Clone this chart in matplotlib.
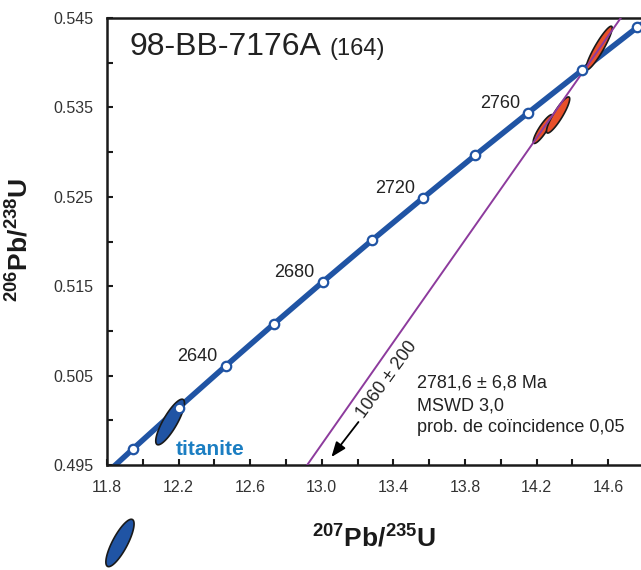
import numpy as np
import matplotlib
matplotlib.use("Agg")
import matplotlib.pyplot as plt
from matplotlib.patches import Polygon
from matplotlib.ticker import FixedLocator, FormatStrFormatter

plt.rcParams['font.family'] = ['Liberation Sans', 'DejaVu Sans']
plt.rcParams['mathtext.fontset'] = 'custom'
plt.rcParams['mathtext.rm'] = 'Liberation Sans'
plt.rcParams['mathtext.bf'] = 'Liberation Sans:bold'

# concordia points (age in Ma, 207Pb/235U, 206Pb/238U)
ages = [2580, 2600, 2620, 2640, 2660, 2680, 2700, 2720, 2740, 2760, 2780, 2800, 2820]
pb207_u235 = [11.692, 11.944, 12.201, 12.464, 12.732, 13.005, 13.283, 13.568,
              13.857, 14.153, 14.455, 14.762, 15.076]
pb206_u238 = [0.49213, 0.49677, 0.50142, 0.50609, 0.51077, 0.51547, 0.52018,
              0.52491, 0.52965, 0.53440, 0.53917, 0.54396, 0.54876]
labelled_ages = [2640, 2680, 2720, 2760]

# discordia intercepts (lower 1060 Ma, upper 2781.6 Ma)
discordia_x = [1.8404, 14.479]
discordia_y = [0.17872, 0.53955]

# analyses: x, y, sigma x, sigma y, rho
zircon_x = [14.549, 14.236, 14.320]
zircon_y = [0.54164, 0.53258, 0.53415]
zircon_sx = [0.0731, 0.0550, 0.0648]
zircon_sy = [0.00244, 0.00161, 0.00202]
zircon_rho = [0.92, 0.878, 0.892]

titanite_x = [12.153, 11.873]
titanite_y = [0.49981, 0.48628]
titanite_sx = [0.0801, 0.0787]
titanite_sy = [0.00255, 0.00265]
titanite_rho = [0.831, 0.803]

x_major = [11.8, 12.2, 12.6, 13.0, 13.4, 13.8, 14.2, 14.6]
x_minor = [12.0, 12.4, 12.8, 13.2, 13.6, 14.0, 14.4]
y_major = [0.495, 0.505, 0.515, 0.525, 0.535, 0.545]
y_minor = [0.500, 0.510, 0.520, 0.530, 0.540]

BLUE = '#2054a4'
RED = '#e8502a'
PURPLE = '#8d3b9d'


def ellipse_points(cx, cy, sx, sy, rho, n=100):
    t = np.linspace(0, 2 * np.pi, n)
    ex = cx + sx * np.cos(t)
    ey = cy + sy * (rho * np.cos(t) + np.sqrt(1 - rho ** 2) * np.sin(t))
    return np.column_stack([ex, ey])


fig = plt.figure(figsize=(6.41, 5.70), dpi=100)
ax = fig.add_axes([106.9 / 641, 1 - 465 / 570, 1 - 106.9 / 641, 447 / 570])
ax.set_xlim(11.8, 14.783)
ax.set_ylim(0.495, 0.545)

# concordia
ax.plot(pb207_u235, pb206_u238, color=BLUE, lw=4.0, zorder=2, solid_capstyle='butt')

# ellipses
for i in range(len(zircon_x)):
    pts = ellipse_points(zircon_x[i], zircon_y[i], zircon_sx[i], zircon_sy[i], zircon_rho[i])
    ax.add_patch(Polygon(pts, closed=True, facecolor=RED, edgecolor='#1a1a1a', lw=1.2, zorder=3))
for i in range(len(titanite_x)):
    pts = ellipse_points(titanite_x[i], titanite_y[i], titanite_sx[i], titanite_sy[i], titanite_rho[i])
    ax.add_patch(Polygon(pts, closed=True, facecolor=BLUE, edgecolor='#1a1a1a', lw=1.2,
                         zorder=3, clip_on=(i == 0)))

# discordia
ax.axline((discordia_x[0], discordia_y[0]), (discordia_x[1], discordia_y[1]),
          color=PURPLE, lw=1.4, zorder=4)

# age markers
ax.plot(pb207_u235, pb206_u238, 'o', ms=6.8, mfc='white', mec=BLUE, mew=1.6, zorder=5)
for a in labelled_ages:
    k = ages.index(a)
    ax.annotate(str(a), (pb207_u235[k], pb206_u238[k]), xytext=(-8, 5),
                textcoords='offset pixels', ha='right', va='baseline',
                fontsize=13, color='#222222')

# texts
ax.text(11.929, 0.54086, '98-BB-7176A', fontsize=23, color='#222222', va='baseline')
ax.text(13.041, 0.54086, '(164)', fontsize=17, color='#222222', va='baseline')
ax.text(12.186, 0.49611, 'titanite', fontsize=15, fontweight='bold', color='#1b7ec2',
        va='baseline')
ax.text(13.366, 0.50451, '1060 ± 200', fontsize=13, rotation=54, rotation_mode='anchor',
        ha='center', va='center', color='#222222')
ax.annotate('', xy=(13.054, 0.49589), xytext=(13.205, 0.49981),
            arrowprops=dict(arrowstyle='-|>,head_length=0.9,head_width=0.35',
                            color='black', lw=1.3, shrinkA=0, shrinkB=0))
for txt, yy in zip(['2781,6 ± 6,8 Ma', 'MSWD 3,0', 'prob. de coïncidence 0,05'],
                   [0.50417, 0.50160, 0.49914]):
    ax.text(13.532, yy, txt, fontsize=13, va='center', color='#222222')

# axes styling
ax.spines['right'].set_visible(False)
for s in ['left', 'bottom', 'top']:
    ax.spines[s].set_linewidth(1.8)
    ax.spines[s].set_color('#1a1a1a')
ax.xaxis.set_major_locator(FixedLocator(x_major))
ax.xaxis.set_minor_locator(FixedLocator(x_minor))
ax.yaxis.set_major_locator(FixedLocator(y_major))
ax.yaxis.set_minor_locator(FixedLocator(y_minor))
ax.xaxis.set_major_formatter(FormatStrFormatter('%.1f'))
ax.yaxis.set_major_formatter(FormatStrFormatter('%.3f'))
ax.tick_params(which='both', direction='in', length=4, width=1.5, color='#1a1a1a',
               top=False, right=False)
ax.tick_params(axis='x', labelsize=11.5, pad=11, labelcolor='#333333')
ax.tick_params(axis='y', labelsize=11.5, pad=10, labelcolor='#333333')

ax.set_xlabel(r'$\mathbf{^{207}Pb/^{235}U}$', fontsize=19, color='#1a1a1a')
ax.set_ylabel(r'$\mathbf{^{206}Pb/^{238}U}$', fontsize=19, color='#1a1a1a')
ax.xaxis.set_label_coords(0.5, -0.135)
ax.yaxis.set_label_coords(-0.138, 0.503)

fig.savefig('out.png', dpi=100)
